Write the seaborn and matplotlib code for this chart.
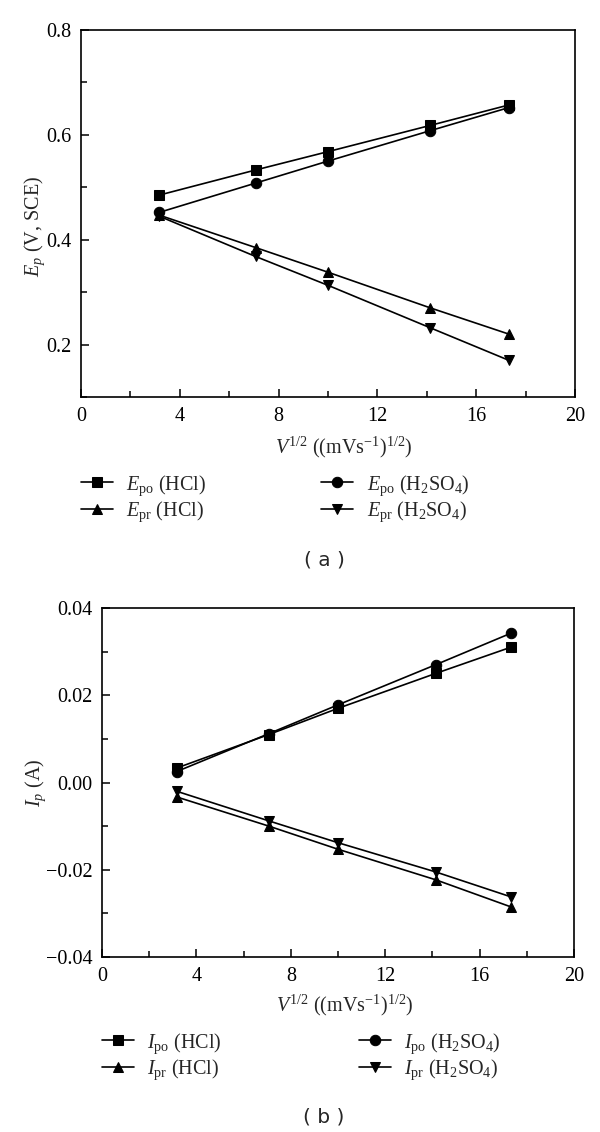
import matplotlib
matplotlib.use("Agg")
import matplotlib.pyplot as plt
import seaborn as sns
import pandas as pd
from matplotlib.ticker import MultipleLocator

# ---- data ----
x_vals = [3.16, 7.07, 10.0, 14.14, 17.32]

epo_hcl = [0.485, 0.533, 0.568, 0.618, 0.657]
epo_h2so4 = [0.452, 0.508, 0.550, 0.608, 0.652]
epr_hcl = [0.447, 0.385, 0.338, 0.270, 0.220]
epr_h2so4 = [0.445, 0.368, 0.313, 0.232, 0.170]

ipo_hcl = [0.0033, 0.0110, 0.0170, 0.0250, 0.0310]
ipo_h2so4 = [0.0025, 0.0112, 0.0178, 0.0270, 0.0342]
ipr_hcl = [-0.0033, -0.0100, -0.0153, -0.0223, -0.0285]
ipr_h2so4 = [-0.0020, -0.0088, -0.0138, -0.0205, -0.0262]

x_ticks = [0, 4, 8, 12, 16, 20]
ya_ticks = [0.2, 0.4, 0.6, 0.8]
yb_ticks = [-0.04, -0.02, 0.00, 0.02, 0.04]

labels_a = [r"$E_{\mathrm{po}}$ (HCl)", r"$E_{\mathrm{pr}}$ (HCl)",
            r"$E_{\mathrm{po}}$ (H$_2$SO$_4$)", r"$E_{\mathrm{pr}}$ (H$_2$SO$_4$)"]
labels_b = [r"$I_{\mathrm{po}}$ (HCl)", r"$I_{\mathrm{pr}}$ (HCl)",
            r"$I_{\mathrm{po}}$ (H$_2$SO$_4$)", r"$I_{\mathrm{pr}}$ (H$_2$SO$_4$)"]
markers = ["s", "^", "o", "v"]

sns.set_style("ticks")
plt.rcParams["font.family"] = ["Liberation Serif", "DejaVu Serif"]
plt.rcParams["mathtext.fontset"] = "custom"
plt.rcParams["mathtext.rm"] = "Liberation Serif"
plt.rcParams["mathtext.it"] = "Liberation Serif:italic"
plt.rcParams["mathtext.bf"] = "Liberation Serif:bold"

FS = 14.5
W, H = 600, 1132
fig = plt.figure(figsize=(W / 100, H / 100), dpi=100)

def fx(px):
    return px / W

def fy(py):
    return 1 - py / H

ax_a = fig.add_axes([fx(81), fy(397), fx(575 - 81), (397 - 30) / H])
ax_b = fig.add_axes([fx(102), fy(957), fx(574 - 102), (957 - 608) / H])

def draw(ax, series, labels):
    for ys, lab, m in zip(series, labels, markers):
        df = pd.DataFrame({"x": x_vals, "y": ys})
        sns.lineplot(data=df, x="x", y="y", ax=ax, color="black", marker=m,
                     markersize=7.5, markeredgecolor="black", linewidth=1.2,
                     label=lab, legend=False)
    ax.set_xlim(0, 20)
    ax.set_xticks(x_ticks)
    ax.xaxis.set_minor_locator(MultipleLocator(2))
    for s in ax.spines.values():
        s.set_linewidth(1.2)
        s.set_color("black")
    ax.tick_params(which="both", direction="in", top=False, right=False,
                   labelsize=FS, width=1.1, colors="black")
    ax.tick_params(which="major", length=6, pad=7)
    ax.tick_params(which="minor", length=4)
    ax.set_xlabel(r"$V^{1/2}$ ((mVs$^{-1}$)$^{1/2}$)", fontsize=FS)

draw(ax_a, [epo_hcl, epr_hcl, epo_h2so4, epr_h2so4], labels_a)
ax_a.set_ylim(0.1, 0.8)
ax_a.set_yticks(ya_ticks)
ax_a.set_yticklabels(["0.2", "0.4", "0.6", "0.8"])
ax_a.yaxis.set_minor_locator(MultipleLocator(0.1))
ax_a.set_ylabel(r"$E_p$ (V, SCE)", fontsize=FS)
ax_a.yaxis.set_label_coords((35 - 81) / 494, (397 - 226) / 367)
ax_a.xaxis.set_label_coords((344 - 81) / 494, -(447 - 397) / 367)

draw(ax_b, [ipo_hcl, ipr_hcl, ipo_h2so4, ipr_h2so4], labels_b)
ax_b.set_ylim(-0.04, 0.04)
ax_b.set_yticks(yb_ticks)
ax_b.set_yticklabels(["\u22120.04", "\u22120.02", "0.00", "0.02", "0.04"])
ax_b.yaxis.set_minor_locator(MultipleLocator(0.01))
ax_b.set_ylabel(r"$I_p$ (A)", fontsize=FS)
ax_b.yaxis.set_label_coords((36 - 102) / 472, 0.5)
ax_b.xaxis.set_label_coords((345 - 102) / 472, -(1005 - 957) / 349)
for ax in (ax_a, ax_b):
    ax.xaxis.label.set_va("center")
    ax.yaxis.label.set_va("center")

def add_legend(ax, x0, ytop, colsp):
    h, l = ax.get_legend_handles_labels()
    fig.legend(h, l, loc="upper left", bbox_to_anchor=(fx(x0), fy(ytop)),
               ncol=2, frameon=False, fontsize=FS, handlelength=1.6,
               handletextpad=0.65, columnspacing=colsp, labelspacing=0.12,
               borderpad=0, borderaxespad=0)

add_legend(ax_a, 81, 473, 5.7)
add_legend(ax_b, 102, 1031, 6.8)

fig.text(fx(324), fy(560), "( a )", ha="center", va="center", fontsize=FS,
         family="DejaVu Sans")
fig.text(fx(324), fy(1117), "( b )", ha="center", va="center", fontsize=FS,
         family="DejaVu Sans")

fig.savefig("out.png", dpi=100)
